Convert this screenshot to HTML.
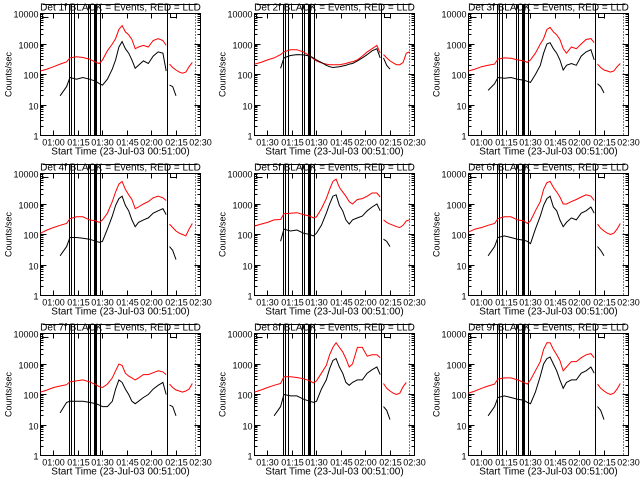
<!DOCTYPE html>
<html><head><meta charset="utf-8"><style>
html,body{margin:0;padding:0;background:#fff;}
svg{display:block;font-family:"Liberation Sans",sans-serif;}
line,rect{shape-rendering:crispEdges;}
</style></head><body>
<svg id="chart" width="640" height="480" viewBox="0 0 640 480"></svg>
<script>
const timesA=[52,56,60,64,68,70,74,78,82,86,88,90,93,96,98,100,102,104,106,108,110,112,115,118,121,124,127,129];
const timesB=[131,133,135,137,139,141,143,145,147];
const redA=[
[130,150,180,220,260,350,380,360,320,250,230,300,600,1000,1500,3000,4000,2500,2000,1400,700,800,900,800,1300,1500,1300,900],
[220,250,300,350,450,550,650,650,550,400,330,280,240,220,210,210,210,210,220,230,250,260,300,400,550,700,900,500],
[130,150,180,200,220,320,350,340,300,280,250,300,500,1000,1500,3000,3500,2500,2000,1400,700,500,800,700,1000,1400,1500,1100],
[110,140,170,200,230,330,380,380,300,280,250,300,500,1200,2500,4500,5500,3000,2000,1400,700,800,1000,1200,1600,1800,1600,1300],
[190,220,250,300,310,480,500,520,450,400,350,380,700,1500,3000,5500,6500,3500,2500,1800,1200,1000,1400,1500,1800,2300,2300,1700],
[120,150,170,200,230,330,380,380,300,280,230,280,600,1200,3000,5000,5500,3500,2500,1700,1000,1000,1200,1400,1700,2000,1800,1300],
[120,140,170,190,210,260,280,300,260,210,180,170,220,350,600,1000,900,500,400,350,300,350,450,450,520,600,550,450],
[120,140,170,200,230,380,380,360,330,280,240,280,500,900,2000,3500,5000,3500,2500,1500,800,1000,3500,3500,1800,2000,2000,1600],
[110,130,160,190,220,320,350,350,300,250,220,300,600,1200,3000,5000,5000,3000,2000,1300,600,800,1200,1200,1600,2000,2200,1600]];
const blackA=[
[null,null,null,20,40,80,70,80,70,60,50,45,70,150,300,800,1200,700,500,300,160,200,280,230,400,550,500,130],
[null,null,null,null,160,350,420,450,440,400,350,300,250,200,180,170,175,180,190,200,220,230,280,350,450,600,700,350],
[null,null,null,30,50,80,75,80,70,65,60,55,100,200,500,1000,1100,700,500,300,140,200,230,200,400,550,650,300],
[null,null,null,20,40,80,80,75,70,60,55,60,150,400,900,1500,1800,900,600,300,180,250,300,350,500,600,700,450],
[null,null,null,null,60,150,130,140,110,100,90,110,200,500,1000,1800,2000,900,600,300,220,300,350,400,600,800,1000,600],
[null,null,null,20,40,80,90,80,70,65,60,50,150,400,900,1500,1800,800,600,300,180,250,350,300,500,600,800,500],
[null,null,null,25,55,60,60,60,55,50,45,40,40,60,150,300,250,150,100,60,50,60,80,100,150,200,250,100],
[null,null,null,20,40,100,90,90,70,60,55,60,150,300,700,1300,1500,800,500,250,200,250,300,300,500,650,800,450],
[null,null,null,20,40,80,90,80,70,65,55,50,120,400,1000,1500,1700,1000,600,300,160,250,300,300,500,600,800,500]];
const redB=[
[220,170,140,120,110,120,180,250,null],
[450,350,280,240,210,210,250,500,550],
[220,170,140,130,120,130,180,230,null],
[220,170,130,110,100,90,150,230,null],
[300,250,220,200,180,170,200,280,300],
[220,160,130,110,100,110,150,230,null],
[220,170,140,130,120,130,150,230,null],
[230,160,130,110,100,110,180,250,null],
[220,160,130,110,100,110,150,230,null]];
const blackB=[
[45,40,20,null,null,null,null,null,null],
[350,200,150,null,null,null,null,null,null],
[50,40,25,null,null,null,null,null,null],
[40,30,15,null,null,null,null,null,null],
[70,60,40,null,null,null,null,null,null],
[40,30,20,null,null,null,null,null,null],
[45,40,20,null,null,null,null,null,null],
[40,30,15,null,null,null,null,null,null],
[40,30,15,null,null,null,null,null,null]];
const solidLines=[69.8,71,72.8,81.4,82.6,85.1,85.7,86.3,88.7,129.8];
const dottedLines=[146.9];
const yTicks=[1,10,100,1000,10000];
const yTickLabels=["1","10","100","1000","10000"];
const xTicks=[60,75,90,105,120,135,150];
const xTickLabelsStd=["01:00","01:15","01:30","01:45","02:00","02:15","02:30"];
const xTickLabelsAlt=["01:30","01:15","01:30","01:45","02:00","02:15","02:30"];

const NS="http://www.w3.org/2000/svg";
const svg=document.getElementById('chart');
function mk(tag,attrs,parent){const e=document.createElementNS(NS,tag);for(const k in attrs)e.setAttribute(k,attrs[k]);(parent||svg).appendChild(e);return e;}
const boxX=[40,254,468], boxY=[13,173,333], W=160, H=122;
const T0=52, T1=150;

for(let p=0;p<9;p++){
  const c=p%3,r=Math.floor(p/3);
  const L=boxX[c]+0.5,T=boxY[r]+0.5;
  const xs=t=>L+(t-T0)/(T1-T0)*W;
  const xi=t=>Math.round(xs(t)-0.5)+0.5;
  const ys=v=>T+(4-Math.log10(v))/4*H;
  const yi=v=>Math.round(ys(v)-0.5)+0.5;
  const g=mk('g',{});
  
  
  const tt=mk('text',{x:L+W/2,y:T-3,'font-size':10,'text-anchor':'middle',fill:'#000'},g);
  tt.textContent='Det '+(p+1)+'f BLACK = Events, RED = LLD';
  
  
  mk('line',{x1:L+2,y1:T-9,x2:L+W-3,y2:T-9,stroke:'#000','stroke-width':1},g);
  const bx=mk('rect',{x:L,y:T,width:W,height:H,fill:'none',stroke:'#000','stroke-width':1},g);
  
  
  yTicks.forEach((v,i)=>{
    const y=yi(v);
    mk('line',{x1:L,y1:y,x2:L+6,y2:y,stroke:'#000'},g);
    mk('line',{x1:L+W,y1:y,x2:L+W-6,y2:y,stroke:'#000'},g);
    const lb=mk('text',{x:L-2,y:y+4,'font-size':9,'text-anchor':'end',fill:'#000'},g);
    lb.textContent=yTickLabels[i];
    
    
    if(i<4){for(let m=2;m<10;m++){const ym=yi(v*m);
      mk('line',{x1:L,y1:ym,x2:L+3,y2:ym,stroke:'#000'},g);
      mk('line',{x1:L+W,y1:ym,x2:L+W-3,y2:ym,stroke:'#000'},g);}}
  });
  const labs=(c===1)?xTickLabelsAlt:xTickLabelsStd;
  xTicks.forEach((t,i)=>{
    const x=xi(t);
    mk('line',{x1:x,y1:T+H,x2:x,y2:T+H-5,stroke:'#000'},g);
    mk('line',{x1:x,y1:T,x2:x,y2:T+5,stroke:'#000'},g);
    const lb=mk('text',{x:x,y:T+H+10,'font-size':9,'text-anchor':'middle',fill:'#000'},g);
    lb.textContent=labs[i];
    
    
  });
  const xt=mk('text',{x:L+W/2,y:T+H+19,'font-size':10,'text-anchor':'middle',fill:'#000'},g);
  xt.textContent='Start Time (23-Jul-03 00:51:00)';
  
  
  const yt=mk('text',{x:0,y:0,'font-size':9,'text-anchor':'middle',fill:'#000',transform:'translate('+(L-29)+','+(T+H/2)+') rotate(-90)'},g);
  yt.textContent='Counts/sec';
  
  
  solidLines.forEach(t=>{const x=xi(t);
    const ln=mk('line',{x1:x,y1:T-9,x2:x,y2:T+H,stroke:'#000','stroke-width':1},g);
    
    });
  dottedLines.forEach(t=>{const x=xi(t);
    const ln=mk('line',{x1:x,y1:T,x2:x,y2:T+H,stroke:'#000','stroke-dasharray':'1,2'},g);
    
    });
  [L+2,xi(130)+3].forEach(x=>{mk('path',{d:'M'+x+' '+T+'V'+(T+4)+'H'+(x+6),fill:'none',stroke:'#000','shape-rendering':'crispEdges'},g);});
  function draw(times,vals,color,name){
    let d='';let pen=false;
    times.forEach((t,i)=>{const v=vals[i];if(v==null){pen=false;return;}
      d+=(pen?'L':'M')+xs(t).toFixed(1)+' '+ys(v).toFixed(1);pen=true;});
    if(d){const pa=mk('path',{d:d,fill:'none',stroke:color,'stroke-width':1},g);
      
      }
  }
  draw(timesA,redA[p],'#ff0000','lld-series-a');
  draw(timesB,redB[p],'#ff0000','lld-series-b');
  draw(timesA,blackA[p],'#000','events-series-a');
  draw(timesB,blackB[p],'#000','events-series-b');
}
</script>
</body></html>
